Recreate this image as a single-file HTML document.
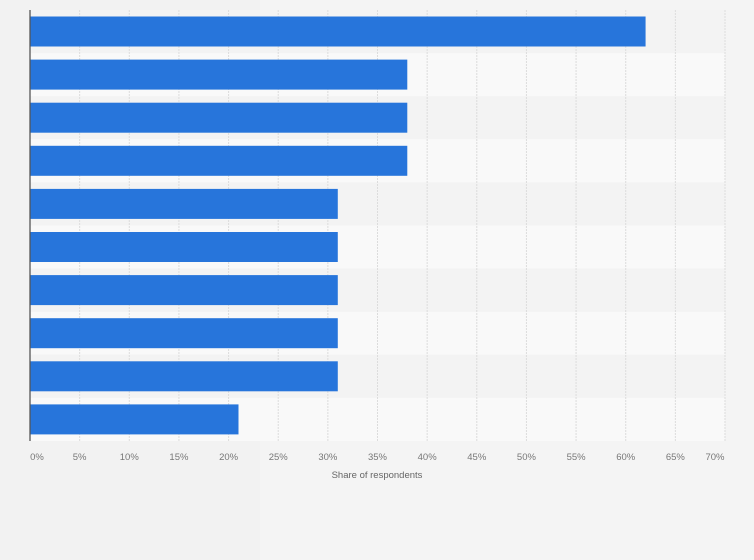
<!DOCTYPE html>
<html><head><meta charset="utf-8"><style>
body{margin:0;background:#f2f2f2;font-family:"Liberation Sans",sans-serif}
svg{display:block}
</style></head><body>
<svg width="754" height="560">
<rect x="260" y="0" width="494" height="560" fill="#f4f4f4"/>
<rect x="0" y="0" width="260" height="560" fill="#f2f2f2"/>
<g id="bands"></g><g id="grid"></g><g id="bars"></g><g id="ticks"></g>
<line x1="30" y1="10" x2="30" y2="441" stroke="#555" stroke-width="1.3"/>
<text x="377" y="478" font-size="9.5" fill="#666" text-anchor="middle">Share of respondents</text>
</svg>
<script>
const categories=["c1","c2","c3","c4","c5","c6","c7","c8","c9","c10"];
const values=[62,38,38,38,31,31,31,31,31,21];
const tickValues=[0,5,10,15,20,25,30,35,40,45,50,55,60,65,70];
const tickLabels=["0%","5%","10%","15%","20%","25%","30%","35%","40%","45%","50%","55%","60%","65%","70%"];
const NS="http://www.w3.org/2000/svg";
const x0=30,x1=725,top0=10,rowH=43.1;
const xs=v=>x0+v*(x1-x0)/70;
function mk(t,a,p){const e=document.createElementNS(NS,t);for(const k in a)e.setAttribute(k,a[k]);document.getElementById(p).appendChild(e);return e;}
categories.forEach((c,i)=>{
 const b=mk('rect',{x:x0,y:top0+i*rowH,width:x1-x0,height:rowH,fill:i%2?'#f9f9f9':'#f3f3f3'},'bands');
 
 
});
tickValues.forEach((v,i)=>{
 if(v>0){const g=mk('line',{x1:xs(v),x2:xs(v),y1:top0,y2:441,stroke:'#dcdcdc','stroke-dasharray':'2,1'},'grid');
 
 }
 const off=i==0?7:(i==tickValues.length-1?-10:0);
 const t=mk('text',{x:xs(v)+off,y:460,'font-size':'9.5',fill:'#777','text-anchor':'middle'},'ticks');
 t.textContent=tickLabels[i];
 
 
});
values.forEach((v,i)=>{
 const r=mk('rect',{x:x0,y:top0+i*rowH+6.5,width:xs(v)-x0,height:30,fill:'#2775db'},'bars');
 
 
});
</script>
</body></html>
